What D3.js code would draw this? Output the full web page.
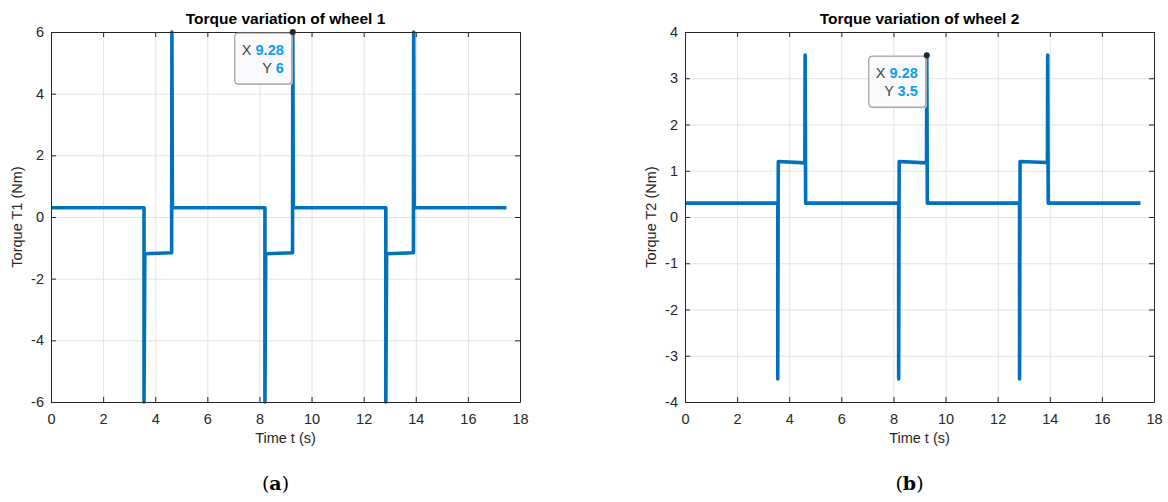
<!DOCTYPE html>
<html>
<head>
<meta charset="utf-8">
<script src="https://cdn.jsdelivr.net/npm/d3@7"></script>
<style>
  body { margin: 0; background: #fff; }
  svg { display: block; font-family: "Liberation Sans", Arial, sans-serif; }
  .tick text { fill: #262626; font-size: 14.5px; }
</style>
</head>
<body>
<div id="chart"></div>
<script>
/* Torque variation of two wheels */

const width = 1168, height = 502;

// time (s) of each vertex of the torque traces
const timeW1 = [0, 3.57, 3.57, 3.60, 4.63, 4.64, 4.66, 8.21, 8.21, 8.24, 9.27, 9.28, 9.30, 12.85, 12.85, 12.88, 13.91, 13.92, 13.94, 17.48];
const torqueW1 = [0.3, 0.3, -6, -1.19, -1.16, 6, 0.3, 0.3, -6, -1.19, -1.16, 6, 0.3, 0.3, -6, -1.19, -1.16, 6, 0.3, 0.3];

const timeW2 = [0, 3.56, 3.56, 3.58, 4.60, 4.61, 4.63, 8.20, 8.20, 8.22, 9.27, 9.28, 9.30, 12.84, 12.84, 12.86, 13.91, 13.92, 13.94, 17.48];
const torqueW2 = [0.3, 0.3, -3.5, 1.2, 1.17, 3.5, 0.3, 0.3, -3.5, 1.2, 1.17, 3.5, 0.3, 0.3, -3.5, 1.2, 1.18, 3.5, 0.3, 0.3];

const xTicks = [0, 2, 4, 6, 8, 10, 12, 14, 16, 18];
const yTicksW1 = [-6, -4, -2, 0, 2, 4, 6];
const yTicksW2 = [-4, -3, -2, -1, 0, 1, 2, 3, 4];

// data tips shown on the plots
const tipW1 = { x: 9.28, y: 6 };
const tipW2 = { x: 9.28, y: 3.5 };

const svg = d3.select("#chart")
    .append("svg")
    .attr("width", width)
    .attr("height", height)
    .attr("viewBox", [0, 0, width, height]);

svg.append("rect").attr("width", width).attr("height", height).attr("fill", "#fff");

function drawPanel(p) {
    let x = d3.scaleLinear()
        .domain([0, 18])
        .range([p.left, p.right]);

    let y = d3.scaleLinear()
        .domain(p.yDomain)
        .range([p.bottom, p.top]);

    let g = svg.append("g");
    let fmt = d => String(d);  // plain hyphen minus like the original

/* grid */
    g.append("g")
      .attr("transform", `translate(0,${p.bottom})`)
      .call(d3.axisBottom(x).tickValues(xTicks).tickSize(-(p.bottom - p.top)).tickFormat(""))
      .call(a => a.select(".domain").remove())
      .call(a => a.selectAll("line").attr("stroke", "#e3e3e3"));

    g.append("g")
      .attr("transform", `translate(${p.left},0)`)
      .call(d3.axisLeft(y).tickValues(p.yTicks).tickSize(-(p.right - p.left)).tickFormat(""))
      .call(a => a.select(".domain").remove())
      .call(a => a.selectAll("line").attr("stroke", "#e3e3e3"));

/* line */
    let data = p.time.map((t, i) => ({ t: t, v: p.torque[i] }));
    let line = d3.line()
        .x(d => x(d.t))
        .y(d => y(d.v));

    g.append("path")
        .datum(data)
        .attr("d", line)
        .attr("fill", "none")
        .attr("stroke", "#0072BD")
        .attr("stroke-width", 3.6)
        .attr("stroke-linejoin", "round");

/* axes with inward ticks, box on */
    let styleAxis = a => {
        a.select(".domain").attr("stroke", "#262626");
        a.selectAll(".tick line").attr("stroke", "#262626");
    };

    g.append("g")
      .attr("transform", `translate(0,${p.bottom})`)
      .call(d3.axisBottom(x).tickValues(xTicks).tickSize(-5).tickSizeOuter(0).tickPadding(12).tickFormat(fmt))
      .call(styleAxis);

    g.append("g")
      .attr("transform", `translate(0,${p.top})`)
      .call(d3.axisTop(x).tickValues(xTicks).tickSize(-5).tickSizeOuter(0).tickFormat(""))
      .call(styleAxis);

    g.append("g")
      .attr("transform", `translate(${p.left},0)`)
      .call(d3.axisLeft(y).tickValues(p.yTicks).tickSize(-5).tickSizeOuter(0).tickPadding(7).tickFormat(fmt))
      .call(styleAxis);

    g.append("g")
      .attr("transform", `translate(${p.right},0)`)
      .call(d3.axisRight(y).tickValues(p.yTicks).tickSize(-5).tickSizeOuter(0).tickFormat(""))
      .call(styleAxis);

    g.selectAll(".tick text").attr("font-family", null).attr("font-size", null);

/* labels */
    g.append("text")
      .attr("x", (p.left + p.right) / 2)
      .attr("y", 24)
      .attr("text-anchor", "middle")
      .attr("font-weight", "bold")
      .attr("font-size", 15.5)
      .text(p.title);

    g.append("text")
      .attr("x", (p.left + p.right) / 2)
      .attr("y", 443)
      .attr("text-anchor", "middle")
      .attr("font-size", 14.5)
      .attr("fill", "#262626")
      .text("Time t (s)");

    g.append("text")
      .attr("transform", `translate(${p.left - 29},${(p.top + p.bottom) / 2}) rotate(-90)`)
      .attr("text-anchor", "middle")
      .attr("font-size", 14.5)
      .attr("fill", "#262626")
      .text(p.yLabel);

/* data tip */
    let px = x(p.tip.x), py = y(p.tip.y);
    let box = { x: px - 58, y: py + 1, w: 57, h: 51 };
    g.append("rect")
      .attr("x", box.x + 1).attr("y", box.y + 1)
      .attr("width", box.w).attr("height", box.h)
      .attr("rx", 3)
      .attr("fill", "#d8d8d8");
    g.append("rect")
      .attr("x", box.x).attr("y", box.y)
      .attr("width", box.w).attr("height", box.h)
      .attr("rx", 3)
      .attr("fill", "#fafafc")
      .attr("stroke", "#8c8c8c")
      .attr("stroke-width", 1);

    let tipRows = [["X", p.tip.x], ["Y", p.tip.y]];
    tipRows.forEach((r, i) => {
        let t = g.append("text")
          .attr("x", box.x + box.w - 8)
          .attr("y", box.y + 22 + i * 18)
          .attr("text-anchor", "end")
          .attr("font-size", 14.5);
        t.append("tspan").attr("fill", "#444").text(r[0] + " ");
        t.append("tspan").attr("fill", "#0a9ef0").attr("font-weight", "bold").text(r[1]);
    });

    g.append("circle")
      .attr("cx", px).attr("cy", py)
      .attr("r", 3)
      .attr("fill", "#262626");

/* panel letter */
    let letter = g.append("text")
      .attr("x", (p.left + p.right) / 2 - 10)
      .attr("y", 490)
      .attr("text-anchor", "middle")
      .attr("font-family", "'DejaVu Serif', 'Liberation Serif', serif")
      .attr("font-size", 19)
      .attr("fill", "#000");
    letter.append("tspan").text("(");
    letter.append("tspan").attr("font-weight", "bold").text(p.letter);
    letter.append("tspan").text(")");
}

drawPanel({
    left: 51, right: 520, top: 32, bottom: 402,
    yDomain: [-6, 6], yTicks: yTicksW1,
    time: timeW1, torque: torqueW1,
    title: "Torque variation of wheel 1",
    yLabel: "Torque T1 (Nm)",
    tip: tipW1, letter: "a"
});

drawPanel({
    left: 685, right: 1154, top: 32, bottom: 402,
    yDomain: [-4, 4], yTicks: yTicksW2,
    time: timeW2, torque: torqueW2,
    title: "Torque variation of wheel 2",
    yLabel: "Torque T2 (Nm)",
    tip: tipW2, letter: "b"
});
</script>
</body>
</html>
